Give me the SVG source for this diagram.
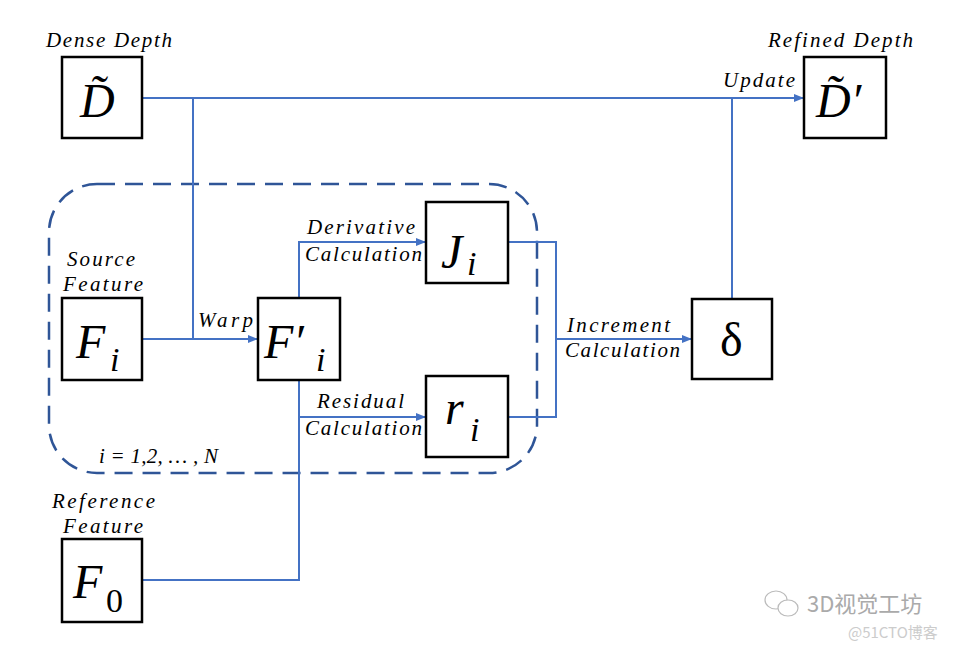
<svg xmlns="http://www.w3.org/2000/svg" width="957" height="646" viewBox="0 0 957 646">
<style>
.box{fill:#fff;stroke:#000;stroke-width:2.5}
.lbl{font-family:"Liberation Serif",serif;font-style:italic;font-size:21px;fill:#000}
.m{font-family:"Liberation Serif",serif;font-style:italic;font-size:48px;fill:#000}
.sub{font-family:"Liberation Serif",serif;font-style:italic;font-size:34px;fill:#000}
.c{fill:none;stroke:#4472C4;stroke-width:2}
</style>
<defs>
<marker id="ah" markerWidth="10" markerHeight="8" refX="9" refY="4" orient="auto" markerUnits="userSpaceOnUse">
<path d="M0,0 L10,4 L0,8 z" fill="#4472C4"/>
</marker>
</defs>
<rect width="957" height="646" fill="#fff"/>
<g id="group-dashed">
<rect x="49" y="184" width="488" height="289" rx="48" ry="48" fill="none" stroke="#2F5597" stroke-width="2.5" stroke-dasharray="18,10"/>
<text class="lbl" x="99" y="463" textLength="119" lengthAdjust="spacing">i = 1,2, … , N</text>
</g>
<g id="connectors">
<path class="c" d="M142,98 H803" marker-end="url(#ah)"/>
<path class="c" d="M193,98 V339"/>
<path class="c" d="M732,98 V299"/>
<path class="c" d="M142,339 H257" marker-end="url(#ah)"/>
<path class="c" d="M299,298 V242 H425" marker-end="url(#ah)"/>
<path class="c" d="M299,380 V580 H142"/>
<path class="c" d="M299,417 H425" marker-end="url(#ah)"/>
<path class="c" d="M508,242 H556 V417 H508"/>
<path class="c" d="M556,339 H691" marker-end="url(#ah)"/>
</g>
<g id="labels">
<text class="lbl" x="46" y="47" textLength="126" lengthAdjust="spacing">Dense Depth</text>
<text class="lbl" x="768" y="47" textLength="145" lengthAdjust="spacing">Refined Depth</text>
<text class="lbl" x="723" y="87" textLength="72" lengthAdjust="spacing">Update</text>
<text class="lbl" x="67" y="266" textLength="68" lengthAdjust="spacing">Source</text>
<text class="lbl" x="63" y="291" textLength="80" lengthAdjust="spacing">Feature</text>
<text class="lbl" x="198" y="327" textLength="55" lengthAdjust="spacing">Warp</text>
<text class="lbl" x="307" y="234" textLength="108" lengthAdjust="spacing">Derivative</text>
<text class="lbl" x="305" y="261" textLength="117" lengthAdjust="spacing">Calculation</text>
<text class="lbl" x="317" y="408" textLength="87" lengthAdjust="spacing">Residual</text>
<text class="lbl" x="305" y="435" textLength="117" lengthAdjust="spacing">Calculation</text>
<text class="lbl" x="567" y="332" textLength="103" lengthAdjust="spacing">Increment</text>
<text class="lbl" x="565" y="357" textLength="115" lengthAdjust="spacing">Calculation</text>
<text class="lbl" x="52" y="508" textLength="103" lengthAdjust="spacing">Reference</text>
<text class="lbl" x="63" y="533" textLength="80" lengthAdjust="spacing">Feature</text>
</g>
<g id="node-D">
<rect class="box" x="62" y="57" width="80" height="81"/>
<text class="m" x="80" y="117">D̃</text>
</g>
<g id="node-Dprime">
<rect class="box" x="804" y="57" width="82" height="81"/>
<text class="m" x="816" y="117">D̃′</text>
</g>
<g id="node-Fi">
<rect class="box" x="62" y="298" width="80" height="82"/>
<text class="m" x="76" y="358">F</text>
<text class="sub" x="110" y="371">i</text>
</g>
<g id="node-Fpi">
<rect class="box" x="258" y="298" width="82" height="82"/>
<text class="m" x="264" y="358">F′</text>
<text class="sub" x="316" y="371">i</text>
</g>
<g id="node-Ji">
<rect class="box" x="426" y="202" width="82" height="81"/>
<text class="m" x="441" y="268">J</text>
<text class="sub" x="467" y="275">i</text>
</g>
<g id="node-ri">
<rect class="box" x="426" y="376" width="82" height="81"/>
<text class="m" x="445" y="424">r</text>
<text class="sub" x="470" y="441">i</text>
</g>
<g id="node-delta">
<rect class="box" x="692" y="299" width="80" height="80"/>
<text class="m" x="720" y="356" style="font-style:normal">δ</text>
</g>
<g id="node-F0">
<rect class="box" x="62" y="539" width="80" height="83"/>
<text class="m" x="73" y="598">F</text>
<text class="sub" x="106" y="612" style="font-style:normal">0</text>
</g>
<g id="watermark">
<ellipse cx="776" cy="600" rx="11" ry="9" fill="none" stroke="#bbb" stroke-width="1.2"/>
<ellipse cx="788" cy="608" rx="10" ry="8" fill="#fff" stroke="#bbb" stroke-width="1.2"/>
<text x="807" y="612" font-family="'Noto Sans CJK SC',sans-serif" font-size="22" fill="#aaa">3D视觉工坊</text>
<text x="848" y="638" font-family="'Noto Sans CJK SC',sans-serif" font-size="15" fill="#ccc">@51CTO博客</text>
</g>
</svg>
